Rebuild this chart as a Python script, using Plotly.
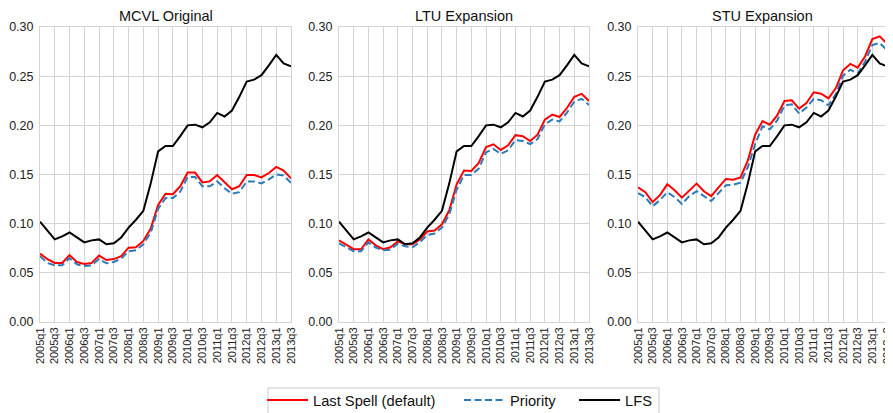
import plotly.graph_objects as go
from plotly.subplots import make_subplots

quarters = [f"{y}q{q}" for y in range(2005, 2014) for q in range(1, 5)][:35]
tick_labels = quarters[::2]
panel_titles = ["MCVL Original", "LTU Expansion", "STU Expansion"]
series_names = ["Last Spell (default)", "Priority", "LFS"]

lfs = [0.102, 0.093, 0.084, 0.087, 0.091, 0.086, 0.081, 0.083, 0.084, 0.079,
       0.080, 0.086, 0.096, 0.104, 0.113, 0.141, 0.1735, 0.179, 0.179, 0.189,
       0.200, 0.2007, 0.198, 0.203, 0.2126, 0.209, 0.215, 0.229, 0.2445, 0.2465,
       0.251, 0.261, 0.2716, 0.263, 0.260]

mcvl_last = [0.0695, 0.064, 0.060, 0.060, 0.068, 0.061, 0.059, 0.060, 0.0675, 0.063,
             0.064, 0.067, 0.0756, 0.076, 0.0824, 0.095, 0.119, 0.1305, 0.130, 0.138,
             0.152, 0.152, 0.142, 0.143, 0.1495, 0.142, 0.135, 0.138, 0.1495, 0.1495,
             0.147, 0.1515, 0.1577, 0.154, 0.146]
mcvl_prio = [0.067, 0.060, 0.0576, 0.0576, 0.065, 0.0586, 0.057, 0.0576, 0.064, 0.0597,
             0.061, 0.0644, 0.072, 0.073, 0.079, 0.091, 0.115, 0.126, 0.126, 0.1325,
             0.1475, 0.1475, 0.138, 0.138, 0.143, 0.136, 0.1305, 0.132, 0.143, 0.143,
             0.141, 0.145, 0.150, 0.149, 0.1415]

ltu_last = [0.083, 0.0787, 0.074, 0.074, 0.084, 0.078, 0.074, 0.076, 0.082, 0.079,
            0.079, 0.084, 0.092, 0.093, 0.0994, 0.1136, 0.140, 0.154, 0.1536, 0.1617,
            0.178, 0.1807, 0.175, 0.1797, 0.190, 0.189, 0.184, 0.1905, 0.2058, 0.211,
            0.2085, 0.2176, 0.229, 0.232, 0.2248]
ltu_prio = [0.080, 0.076, 0.072, 0.072, 0.081, 0.0756, 0.073, 0.0736, 0.0797, 0.077,
            0.076, 0.081, 0.0885, 0.090, 0.096, 0.1095, 0.1346, 0.1495, 0.1495, 0.156,
            0.1726, 0.176, 0.171, 0.1746, 0.185, 0.184, 0.181, 0.186, 0.201, 0.2058,
            0.204, 0.213, 0.224, 0.227, 0.2207]

stu_last = [0.137, 0.132, 0.122, 0.129, 0.140, 0.134, 0.1265, 0.134, 0.1407, 0.133,
            0.128, 0.137, 0.1455, 0.1447, 0.147, 0.1644, 0.1905, 0.2044, 0.2007, 0.210,
            0.2248, 0.2255, 0.217, 0.2227, 0.2336, 0.2322, 0.2275, 0.2377, 0.256, 0.2624,
            0.2587, 0.270, 0.2878, 0.2905, 0.283]
stu_prio = [0.131, 0.127, 0.1177, 0.124, 0.132, 0.127, 0.120, 0.128, 0.133, 0.128,
            0.123, 0.131, 0.139, 0.1397, 0.1417, 0.1576, 0.181, 0.199, 0.196, 0.205,
            0.220, 0.2214, 0.212, 0.218, 0.227, 0.2255, 0.2204, 0.2316, 0.2505, 0.2566,
            0.2526, 0.2647, 0.2817, 0.2838, 0.2763]

panels = [(mcvl_last, mcvl_prio), (ltu_last, ltu_prio), (stu_last, stu_prio)]
FONT = "Liberation Sans, Arial, sans-serif"
GRID = "#d4d4d4"

# page body has an 8px margin: figure is drawn 8px in from the window corner
W, H = 885, 405
OFF = 8

fig = make_subplots(rows=1, cols=3)
legend_ids = ["legend", "legend2", "legend3"]
styles = [dict(color="#ff0000", width=2),
          dict(color="#2b7bba", width=2, dash="7px,3.5px"),
          dict(color="#000000", width=2)]
for k, (last, prio) in enumerate(panels):
    for j, ys in enumerate([last, prio, lfs]):
        fig.add_trace(go.Scatter(x=quarters, y=ys, mode="lines", name=series_names[j],
                                 line=styles[j], showlegend=(k == 0), legend=legend_ids[j]),
                      row=1, col=k + 1)

L, R = 40 - OFF, 6
PW = W - L - R
def px_dom(a, b):
    return [(a - OFF - L) / PW, (b - OFF - L) / PW]
domains = [px_dom(40, 291), px_dom(339, 589), px_dom(638, 887)]
domains[0][0] = 0.0
domains[2][1] = 1.0

for k in range(3):
    xa = "xaxis" if k == 0 else f"xaxis{k+1}"
    ya = "yaxis" if k == 0 else f"yaxis{k+1}"
    fig.layout[xa].update(domain=domains[k], type="category", range=[0, 34],
                          tickmode="array", tickvals=tick_labels, ticktext=tick_labels,
                          tickangle=-90, showgrid=True, gridcolor=GRID, gridwidth=1,
                          showline=True, linecolor=GRID, linewidth=1, mirror=True,
                          ticks="", zeroline=False, ticklabeloverflow="allow",
                          automargin=False,
                          tickfont=dict(size=11, color="#222222", family=FONT))
    fig.layout[ya].update(range=[0, 0.30], tickvals=[0, 0.05, 0.10, 0.15, 0.20, 0.25, 0.30],
                          tickformat=".2f", showgrid=True, gridcolor=GRID, gridwidth=1,
                          showline=True, linecolor=GRID, linewidth=1, mirror=True,
                          ticks="", zeroline=False, ticklabelstandoff=3, automargin=False,
                          ticklabeloverflow="allow",
                          tickfont=dict(size=12.5, color="#222222", family=FONT))
    fig.add_annotation(text=panel_titles[k], xref="paper", yref="paper",
                       x=(domains[k][0] + domains[k][1]) / 2, y=1.0, yshift=1,
                       xanchor="center", yanchor="bottom", showarrow=False,
                       font=dict(size=14.5, color="#111111", family=FONT))

# legend frame
PH = 295
fig.add_shape(type="rect", xref="paper", yref="paper",
              x0=(268 - OFF - L) / PW, x1=(659 - OFF - L) / PW,
              y0=-0.36, y1=-(388 - 322) / PH,
              line=dict(color="#cccccc", width=1), fillcolor="rgba(0,0,0,0)", layer="above")

leg_common = dict(orientation="h", xref="container", yref="container", yanchor="middle",
                  xanchor="left", y=(H - (400.5 - OFF)) / H, bgcolor="rgba(0,0,0,0)",
                  borderwidth=0, font=dict(size=14.7, color="#111111", family=FONT),
                  itemwidth=41)
fig.update_layout(
    width=W, height=H,
    margin=dict(l=L, r=R, t=27 - OFF, b=H - (322 - OFF), autoexpand=False),
    plot_bgcolor="white", paper_bgcolor="white",
    font=dict(family=FONT, color="#222222"),
    legend=dict(**leg_common, x=(270 - 8 - OFF) / W),
    legend2=dict(**leg_common, x=(467 - 8 - OFF) / W),
    legend3=dict(**leg_common, x=(582 - 8 - OFF) / W),
)

fig.write_html("out.html")
